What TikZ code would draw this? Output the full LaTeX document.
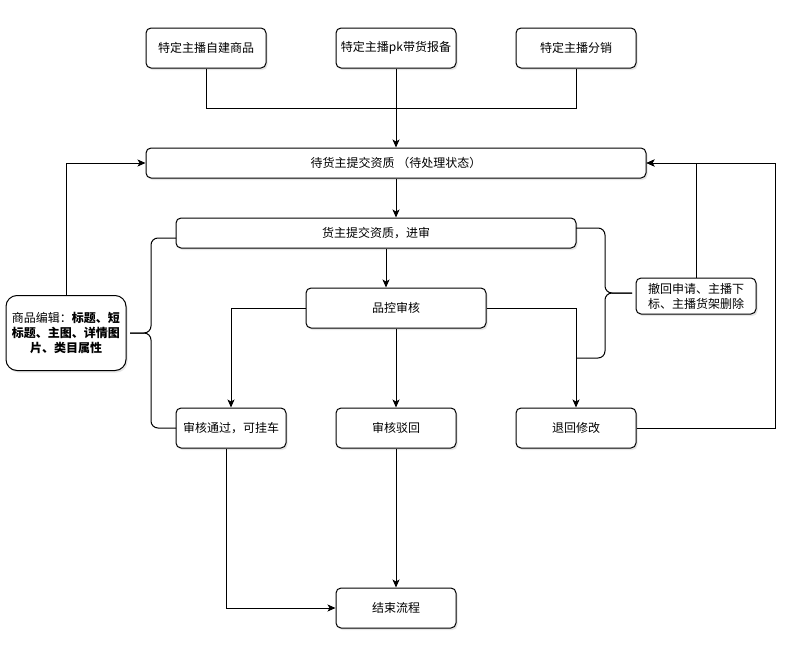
\documentclass[tikz,border=0pt]{standalone}
\usepackage{fontspec}
\newfontfamily\cjk{Noto Sans CJK SC}
\usetikzlibrary{arrows.meta,shadows}

\tikzset{
  caja/.style={draw, line width=1pt, rounded corners=5pt, fill=white, align=center,
    inner sep=0pt, font=\cjk\fontsize{12}{15}\selectfont,
    drop shadow={shadow xshift=1.5pt, shadow yshift=-2pt, opacity=0.2}},
  linea/.style={line width=1pt},
  flecha/.style={linea, -{Stealth[length=8pt,width=7pt,inset=2pt]}}
}

\begin{document}
\begin{tikzpicture}[x=1pt, y=-1pt]

    % Fondo
    \fill[white] (0, 0) rectangle (790, 656);
    \useasboundingbox (0, 0) rectangle (790, 656);

    % Cajas superiores
    \node[caja, minimum width=120pt, minimum height=40pt] (zijian) at (206, 48) {特定主播自建商品};
    \node[caja, minimum width=120pt, minimum height=40pt] (pk) at (396, 48) {特定主播pk带货报备};
    \node[caja, minimum width=120pt, minimum height=40pt] (fenxiao) at (576, 48) {特定主播分销};

    % Flujo central
    \node[caja, minimum width=500pt, minimum height=30pt] (daitijiao) at (396, 163) {待货主提交资质 （待处理状态）};
    \node[caja, minimum width=400pt, minimum height=30pt] (jinshen) at (376, 233) {货主提交资质，进审};
    \node[caja, minimum width=180pt, minimum height=40pt] (pinkong) at (396, 308) {品控审核};
    \node[caja, minimum width=110pt, minimum height=40pt] (tongguo) at (231, 428) {审核通过，可挂车};
    \node[caja, minimum width=120pt, minimum height=40pt] (bohui) at (396, 428) {审核驳回};
    \node[caja, minimum width=120pt, minimum height=40pt] (tuihui) at (576, 428) {退回修改};
    \node[caja, minimum width=120pt, minimum height=40pt] (jieshu) at (396, 608) {结束流程};

    % Cajas laterales
    \node[caja, rounded corners=11pt, minimum width=120pt, minimum height=75pt] (bianji) at (66, 333)
      {商品编辑：\textbf{标题、短}\\\textbf{标题、主图、详情图}\\\textbf{片、类目属性}};
    \node[caja, minimum width=120pt, minimum height=36pt] (chehui) at (696, 296)
      {撤回申请、主播下\\标、主播货架删除};

    % Conectores
    \coordinate (union) at (396, 108);
    \coordinate (derecha) at (775, 163);
    \draw[linea] (zijian.south) |- (union);
    \draw[linea] (fenxiao.south) |- (union);
    \draw[flecha] (pk.south) -- (daitijiao.north);
    \draw[flecha] (daitijiao.south) -- (daitijiao.south |- jinshen.north);
    \draw[flecha] ([xshift=10pt]jinshen.south) -- ([xshift=-10pt]pinkong.north);
    \draw[flecha] (pinkong.west) -| (tongguo.north);
    \draw[flecha] (pinkong.south) -- (bohui.north);
    \draw[flecha] (pinkong.east) -| (tuihui.north);
    \draw[flecha] (bohui.south) -- (jieshu.north);
    \draw[flecha] ([xshift=-5pt]tongguo.south) |- (jieshu.west);
    \draw[flecha] (bianji.north) |- (daitijiao.west);
    \draw[flecha] (chehui.north) |- (daitijiao.east);
    \draw[flecha] (tuihui.east) -| (derecha) -- (daitijiao.east);

    % Llaves
    \draw[linea, rounded corners=7pt] (176, 238) -- (151, 238) -- (151, 333) -- (130, 333);
    \draw[linea, rounded corners=7pt] (130, 333) -- (151, 333) -- (151, 428) -- (176, 428);
    \draw[linea, rounded corners=7pt] (576, 228) -- (605, 228) -- (605, 293) -- (632, 293);
    \draw[linea, rounded corners=7pt] (632, 293) -- (605, 293) -- (605, 358) -- (576, 358);

\end{tikzpicture}
\end{document}
